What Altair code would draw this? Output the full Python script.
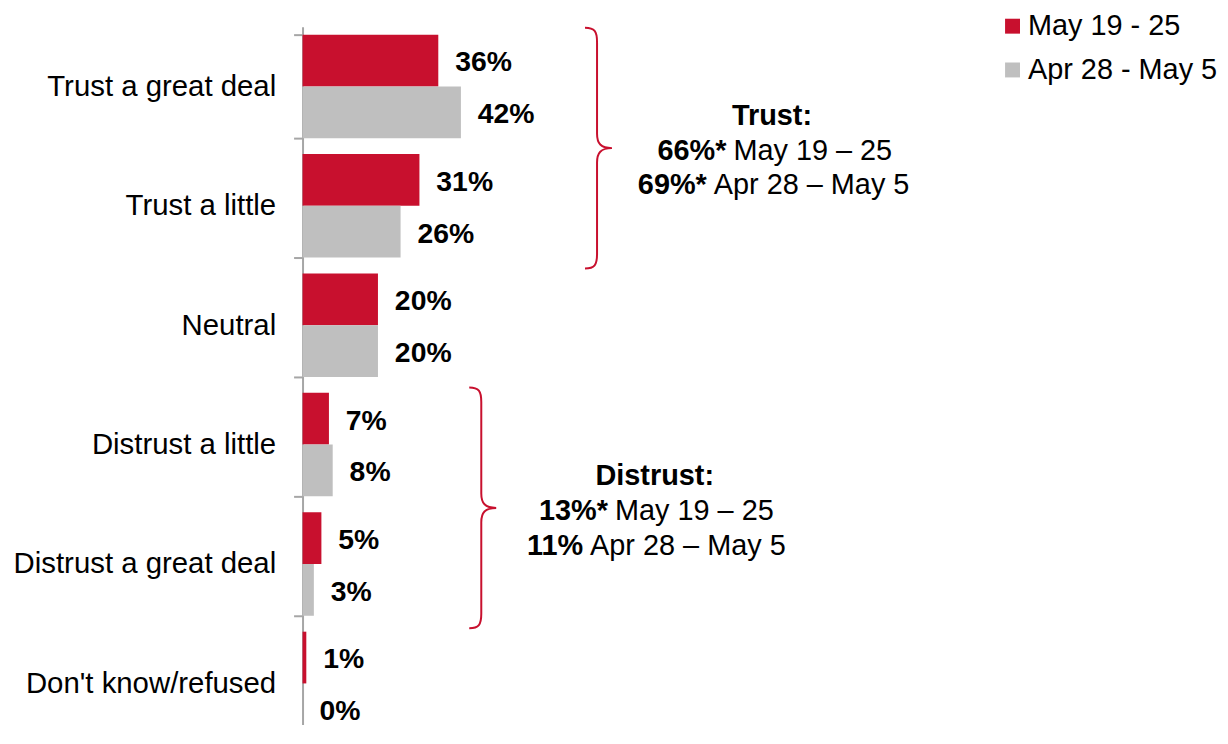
import altair as alt
import pandas as pd

# ---------------- data ----------------
categories = ["Trust a great deal", "Trust a little", "Neutral",
              "Distrust a little", "Distrust a great deal", "Don't know/refused"]
series = ["May 19 - 25", "Apr 28 - May 5"]
may_values = [36, 31, 20, 7, 5, 1]
apr_values = [42, 26, 20, 8, 3, 0]
colors = ["#C8102E", "#BFBFBF"]

# annotation texts (x in % units, row in category-band units from top)
title_text = ["Trust:", "Distrust:"]
title_x = [124.5, 93.4]
title_row = [0.729, 3.75]

bold_text = ["66%*", "69%*", "13%*", "11%"]
reg_text = ["May 19 \u2013 25", "Apr 28 \u2013 May 5", "May 19 \u2013 25", "Apr 28 \u2013 May 5"]
split_x = [113.2, 108.0, 81.8, 75.2]
line_row = [1.021, 1.3125, 4.042, 4.333]

brace_x = [78.1, 47.4]
brace_row = [1.017, 4.03]

FONT = "Liberation Sans"
RED = colors[0]

rows = []
for c, m, a in zip(categories, may_values, apr_values):
    rows.append({"category": c, "series": series[0], "value": m, "label": f"{m}%"})
    rows.append({"category": c, "series": series[1], "value": a, "label": f"{a}%"})
df = pd.DataFrame(rows)

titles_df = pd.DataFrame({"text": title_text, "x": title_x, "row": title_row})
lines_df = pd.DataFrame({"bold": bold_text, "reg": reg_text, "x": split_x, "row": line_row})
braces_df = pd.DataFrame({"x": brace_x, "row": brace_row})

x_scale = alt.Scale(domain=[0, 237.5], nice=False, zero=True)
row_scale = alt.Scale(domain=[0, 6], range=[0, 720], nice=False, zero=False)

y_axis = alt.Axis(title=None, domainColor="#A6A6A6", domainWidth=2, tickColor="#A6A6A6",
                  tickWidth=2, tickSize=9, tickBand="extent", labelFont=FONT,
                  labelFontSize=29.5, labelColor="black", labelPadding=18, labelLimit=400)
y_band = alt.Scale(paddingInner=0.1333, paddingOuter=0.0667, range=[0, 720])
yoff = alt.YOffset("series:N", sort=series, scale=alt.Scale(paddingInner=0, paddingOuter=0))

bars = alt.Chart(df).mark_bar().encode(
    x=alt.X("value:Q", scale=x_scale, axis=None),
    y=alt.Y("category:N", sort=categories, scale=y_band, axis=y_axis),
    yOffset=yoff,
    color=alt.Color("series:N", sort=series,
                    scale=alt.Scale(domain=series, range=colors),
                    legend=alt.Legend(title=None, orient="none", legendX=699, legendY=-15,
                                      symbolType="square", symbolSize=225,
                                      symbolStrokeWidth=0, labelFont=FONT,
                                      labelFontSize=29, labelColor="black",
                                      labelOffset=1, rowPadding=14, padding=0,
                                      labelLimit=400)),
)

value_labels = alt.Chart(df).mark_text(
    align="left", baseline="middle", dx=17, dy=2, font=FONT, fontSize=28.5,
    fontWeight="bold", color="black"
).encode(
    x=alt.X("value:Q", scale=x_scale, axis=None),
    y=alt.Y("category:N", sort=categories, scale=y_band, axis=None),
    yOffset=yoff,
    text="label:N",
)

BRACE = ("M -0.1 -1 C -0.02 -1 0 -0.97 0 -0.88 L 0 -0.12 C 0 -0.04 0.03 0 0.124 0 "
         "C 0.03 0 0 0.04 0 0.12 L 0 0.88 C 0 0.97 -0.02 1 -0.1 1")

braces = alt.Chart(braces_df).mark_point(
    shape=BRACE, size=58564, filled=False, stroke=RED, strokeWidth=2, opacity=1
).encode(
    x=alt.X("x:Q", scale=x_scale, axis=None),
    y=alt.Y("row:Q", scale=row_scale, axis=None),
)

titles = alt.Chart(titles_df).mark_text(
    align="center", baseline="middle", dy=2, font=FONT, fontSize=29,
    fontWeight="bold", color="black"
).encode(
    x=alt.X("x:Q", scale=x_scale, axis=None),
    y=alt.Y("row:Q", scale=row_scale, axis=None),
    text="text:N",
)

bold_parts = alt.Chart(lines_df).mark_text(
    align="right", baseline="middle", dx=-3, dy=2, font=FONT, fontSize=29,
    fontWeight="bold", color="black"
).encode(
    x=alt.X("x:Q", scale=x_scale, axis=None),
    y=alt.Y("row:Q", scale=row_scale, axis=None),
    text="bold:N",
)

reg_parts = alt.Chart(lines_df).mark_text(
    align="left", baseline="middle", dx=4, dy=2, font=FONT, fontSize=29,
    fontWeight="normal", color="black"
).encode(
    x=alt.X("x:Q", scale=x_scale, axis=None),
    y=alt.Y("row:Q", scale=row_scale, axis=None),
    text="reg:N",
)

chart = alt.layer(bars, value_labels, braces, titles, bold_parts, reg_parts).resolve_scale(
    y="independent"
).properties(
    width=900, height=700,
    autosize=alt.AutoSizeParams(type="none"),
    padding={"left": 296, "top": 17, "right": 22, "bottom": 0},
).configure(font=FONT, view=alt.ViewConfig(stroke=None))

chart.save("out.html", embed_options={"renderer": "svg", "actions": False})
